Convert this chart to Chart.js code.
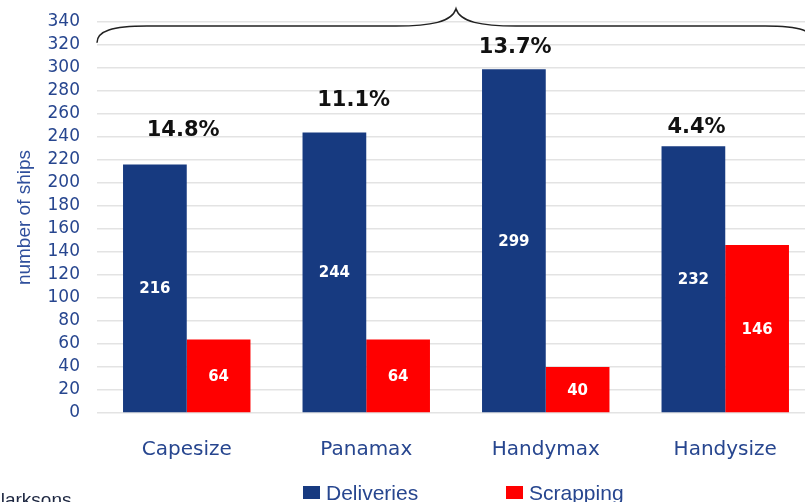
<!DOCTYPE html>
<html>
<head>
<meta charset="utf-8">
<script src="https://cdn.jsdelivr.net/npm/chart.js@4.4.1/dist/chart.umd.min.js"></script>
<style>
  html, body { margin: 0; padding: 0; background: #fff; overflow: hidden; }
</style>
</head>
<body>
<canvas id="ships" width="820" height="502"></canvas>
<script>
const categories = ['Capesize', 'Panamax', 'Handymax', 'Handysize'];
const deliveries = [216, 244, 299, 232];
const scrapping = [64, 64, 40, 146];
const scrapShare = ['14.8%', '11.1%', '13.7%', '4.4%'];
// anchor of each share label: [category offset, value]
const shareAt = [[-0.02, 246], [-0.07, 272], [-0.17, 318], [-0.16, 248]];

const BLUE = '#173a80';
const RED = '#ff0000';
const TEXT_BLUE = '#27468f';

const overlay = {
  id: 'overlay',
  afterDraw(chart) {
    const ctx = chart.ctx;
    const x = chart.scales.x, y = chart.scales.y, area = chart.chartArea;
    ctx.save();

    // numbers inside the bars
    ctx.fillStyle = '#fff';
    ctx.font = 'bold 15px "DejaVu Sans"';
    ctx.textAlign = 'center';
    ctx.textBaseline = 'middle';
    chart.data.datasets.forEach((ds, i) => {
      chart.getDatasetMeta(i).data.forEach((bar, j) => {
        ctx.fillText(ds.data[j], bar.x, (bar.y + bar.base) / 2 + 1);
      });
    });

    // scrapping share above each group
    ctx.fillStyle = '#111';
    ctx.font = 'bold 21px "DejaVu Sans"';
    scrapShare.forEach((t, i) => {
      ctx.fillText(t, x.getPixelForValue(i + shareAt[i][0]), y.getPixelForValue(shareAt[i][1]));
    });

    // brace over all four groups
    const L = area.left, R = area.right, C = (L + R) / 2;
    const yl = y.getPixelForValue(336.5);
    const ye = y.getPixelForValue(322);
    const yp = y.getPixelForValue(351.5);
    ctx.strokeStyle = '#222';
    ctx.lineWidth = 1.5;
    ctx.beginPath();
    ctx.moveTo(L, ye);
    ctx.bezierCurveTo(L, yl + 5, L + 15, yl, L + 50, yl);
    ctx.lineTo(C - 60, yl);
    ctx.bezierCurveTo(C - 25, yl, C - 4, yl - 4, C, yp);
    ctx.bezierCurveTo(C + 4, yl - 4, C + 25, yl, C + 60, yl);
    ctx.lineTo(R - 50, yl);
    ctx.bezierCurveTo(R - 15, yl, R, yl + 5, R, ye);
    ctx.stroke();

    // legend
    ctx.font = '21px "Liberation Sans"';
    ctx.textAlign = 'left';
    ctx.textBaseline = 'alphabetic';
    const lx = [303, 506];
    chart.data.datasets.forEach((ds, i) => {
      ctx.fillStyle = ds.backgroundColor;
      ctx.fillRect(lx[i], 486, 17, 13);
      ctx.fillStyle = TEXT_BLUE;
      ctx.fillText(ds.label, lx[i] + 23, 500);
    });

    // source line
    ctx.fillStyle = '#1c2640';
    ctx.font = '19px "Liberation Sans"';
    ctx.fillText('Clarksons', -13, 506);
    ctx.restore();
  }
};

new Chart(document.getElementById('ships'), {
  type: 'bar',
  data: {
    labels: categories,
    datasets: [
      { label: 'Deliveries', data: deliveries, backgroundColor: BLUE },
      { label: 'Scrapping', data: scrapping, backgroundColor: RED }
    ]
  },
  options: {
    responsive: false,
    animation: false,
    layout: { padding: { top: 22, right: 5, bottom: 29, left: 0 } },
    datasets: { bar: { categoryPercentage: 0.71, barPercentage: 1 } },
    plugins: { legend: { display: false }, tooltip: { enabled: false } },
    scales: {
      x: {
        grid: { display: false },
        border: { display: false },
        ticks: { color: TEXT_BLUE, font: { family: 'DejaVu Sans', size: 20 }, padding: 17 },
        afterFit(scale) { scale.height = 60; }
      },
      y: {
        min: 0,
        max: 340,
        ticks: { stepSize: 20, autoSkip: false, color: TEXT_BLUE, font: { family: 'DejaVu Sans', size: 17 }, padding: 5 },
        // blank tick marks keep the labels clear of the grid
        grid: { color: '#e3e3e3', lineWidth: 1.5, drawTicks: true, tickLength: 12, tickColor: 'rgba(0,0,0,0)' },
        border: { display: false },
        title: {
          display: true,
          text: 'number of ships',
          color: '#2f4f9c',
          font: { family: 'Liberation Sans', size: 19 },
          padding: { top: 13, bottom: 0 }
        },
        afterFit(scale) { scale.width = 97; }
      }
    }
  },
  plugins: [overlay]
});
</script>
</body>
</html>
